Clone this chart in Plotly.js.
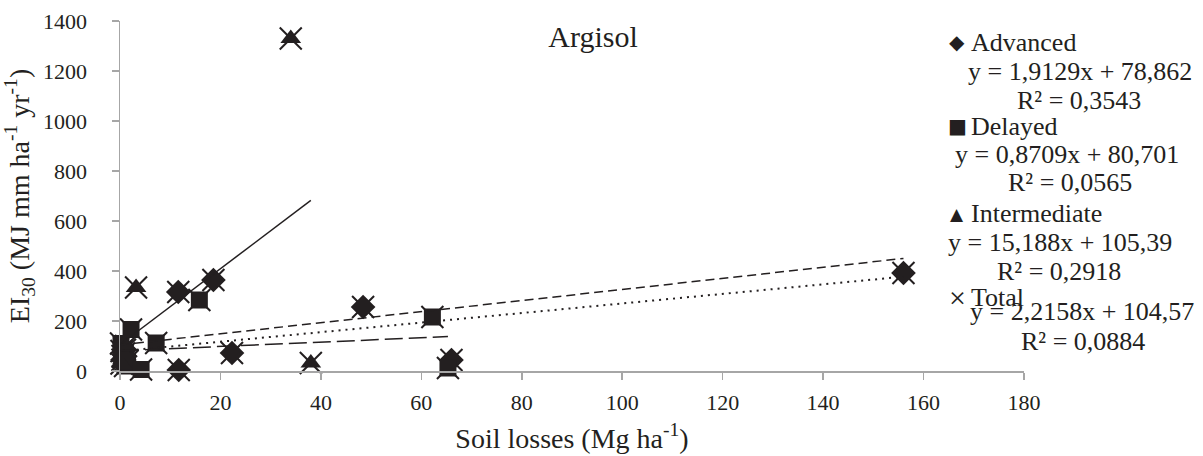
<!DOCTYPE html>
<html>
<head>
<meta charset="utf-8">
<script src="https://cdn.plot.ly/plotly-3.0.1.min.js"></script>
<style>html,body{margin:0;padding:0;background:#fff}#chart{width:1203px;height:456px}</style>
</head>
<body>
<div id="chart"></div>
<script>
// ---- data ----
const advancedX = [0.5, 1.0, 11.6, 11.7, 18.6, 22.3, 48.4, 66.0, 156.0];
const advancedY = [45, 85, 316, 4, 364, 72, 256, 44, 392];

const delayedX = [0.2, 0.3, 0.5, 1.0, 1.5, 2.2, 4.2, 7.2, 15.8, 62.2, 65.3];
const delayedY = [110, 80, 60, 20, 40, 166, 6, 112, 284, 216, 12];

const intermediateX = [0.3, 0.8, 1.2, 3.2, 34.0, 38.0];
const intermediateY = [30, 70, 100, 334, 1330, 32];

const totalX = advancedX.concat(delayedX, intermediateX);
const totalY = advancedY.concat(delayedY, intermediateY);

// trendline coefficients (as printed on the chart)
const seriesNames = ["Advanced", "Delayed", "Intermediate", "Total"];
const slopes = [1.9129, 0.8709, 15.188, 2.2158];
const intercepts = [78.862, 80.701, 105.39, 104.57];
const r2 = ["0,3543", "0,0565", "0,2918", "0,0884"];
const eqText = ["y = 1,9129x + 78,862", "y = 0,8709x + 80,701", "y = 15,188x + 105,39", "y = 2,2158x + 104,57"];

const xTicks = [0, 20, 40, 60, 80, 100, 120, 140, 160, 180];
const yTicks = [0, 200, 400, 600, 800, 1000, 1200, 1400];

// ---- layout geometry ----
const W = 1203, H = 456;
const M = {l: 120, r: 179, t: 21, b: 85};
const PW = W - M.l - M.r, PH = H - M.t - M.b;
const px = x => (x - M.l) / PW;
const py = y => (H - M.b - y) / PH;

const ink = "#231F20";
const FONT = "Liberation Serif";

function trend(i, xs) {
  const x0 = Math.min(...xs), x1 = Math.max(...xs);
  return {x: [x0, x1], y: [slopes[i] * x0 + intercepts[i], slopes[i] * x1 + intercepts[i]]};
}

const tA = trend(0, advancedX), tD = trend(1, delayedX), tI = trend(2, intermediateX), tT = trend(3, totalX);

const traces = [
  {x: totalX, y: totalY, mode: "markers", type: "scatter", name: "Total", cliponaxis: false,
   marker: {symbol: "x-thin", size: 22, color: ink, line: {color: ink, width: 2}}},
  {x: advancedX, y: advancedY, mode: "markers", type: "scatter", name: "Advanced", cliponaxis: false,
   marker: {symbol: "diamond", size: 19, color: ink, line: {width: 0}}},
  {x: delayedX, y: delayedY, mode: "markers", type: "scatter", name: "Delayed", cliponaxis: false,
   marker: {symbol: "square", size: 17, color: ink, line: {width: 0}}},
  {x: intermediateX, y: intermediateY, mode: "markers", type: "scatter", name: "Intermediate", cliponaxis: false,
   marker: {symbol: "triangle-up", size: 18, color: ink, line: {width: 0}}},
  {x: tA.x, y: tA.y, mode: "lines", type: "scatter", cliponaxis: false, line: {color: ink, width: 2, dash: "2px,5px"}},
  {x: tD.x, y: tD.y, mode: "lines", type: "scatter", cliponaxis: false, line: {color: ink, width: 1.5, dash: "18px,6px"}},
  {x: tI.x, y: tI.y, mode: "lines", type: "scatter", cliponaxis: false, line: {color: ink, width: 1.5}},
  {x: tT.x, y: tT.y, mode: "lines", type: "scatter", cliponaxis: false, line: {color: ink, width: 1.5, dash: "9px,5px"}}
];

// legend block (symbol, name, equation, R²) positions in pixels
const legSym = ["\u25C6", "\u25A0", "\u25B2", "\u00D7"];
const legSymY = [42, 126, 214, 297];
const legNameX = 969;
const eqCX = [1080, 1067, 1060, 1082];
const eqY = [71, 154, 242, 311];
const r2CX = [1079, 1070, 1059, 1083];
const r2Y = [101, 182, 271, 341];

const annotations = [];
for (let i = 0; i < 4; i++) {
  annotations.push({xref: "paper", yref: "paper", x: px(957), y: py(legSymY[i]), xanchor: "center", yanchor: "middle",
    text: legSym[i], showarrow: false, font: {family: i === 3 ? FONT : "DejaVu Sans", size: i === 3 ? 30 : (i === 2 ? 17 : 20), color: ink}});
  annotations.push({xref: "paper", yref: "paper", x: px(legNameX), y: py(legSymY[i]), xanchor: "left", yanchor: "middle",
    text: seriesNames[i], showarrow: false, font: {family: FONT, size: 26, color: ink}});
  annotations.push({xref: "paper", yref: "paper", x: px(eqCX[i]), y: py(eqY[i]), xanchor: "center", yanchor: "middle",
    text: eqText[i], showarrow: false, font: {family: FONT, size: 26, color: ink}});
  annotations.push({xref: "paper", yref: "paper", x: px(r2CX[i]), y: py(r2Y[i]), xanchor: "center", yanchor: "middle",
    text: "R\u00B2 = " + r2[i], showarrow: false, font: {family: FONT, size: 26, color: ink}});
}

const axisCommon = {
  showgrid: false, zeroline: false, showline: true, linecolor: "#A6A6A6", linewidth: 1.5,
  ticks: "outside", ticklen: 7, tickcolor: "#A6A6A6", tickwidth: 1.5,
  tickfont: {family: FONT, size: 22, color: ink}
};

const layout = {
  width: W, height: H, margin: M, showlegend: false,
  paper_bgcolor: "#fff", plot_bgcolor: "#fff",
  font: {family: FONT, color: ink},
  title: {text: "Argisol", x: 593 / W, y: 1 - 36 / H, xref: "container", yref: "container",
          xanchor: "center", yanchor: "middle", font: {family: FONT, size: 30, color: ink}},
  xaxis: Object.assign({}, axisCommon, {
    range: [0, 180], tickvals: xTicks, ticktext: xTicks.map(String), ticklabelstandoff: 4,
    title: {text: "Soil losses (Mg ha<sup>-1</sup>)", standoff: 14, font: {family: FONT, size: 28, color: ink}}
  }),
  yaxis: Object.assign({}, axisCommon, {
    range: [0, 1400], tickvals: yTicks, ticktext: yTicks.map(String), ticklabelstandoff: 20,
    title: {text: "EI<sub>30</sub> (MJ mm ha<sup>-1</sup> yr<sup>-1</sup>)", standoff: 6, font: {family: FONT, size: 28, color: ink}}
  }),
  annotations: annotations
};

Plotly.newPlot("chart", traces, layout, {staticPlot: true, displayModeBar: false});
</script>
</body>
</html>
